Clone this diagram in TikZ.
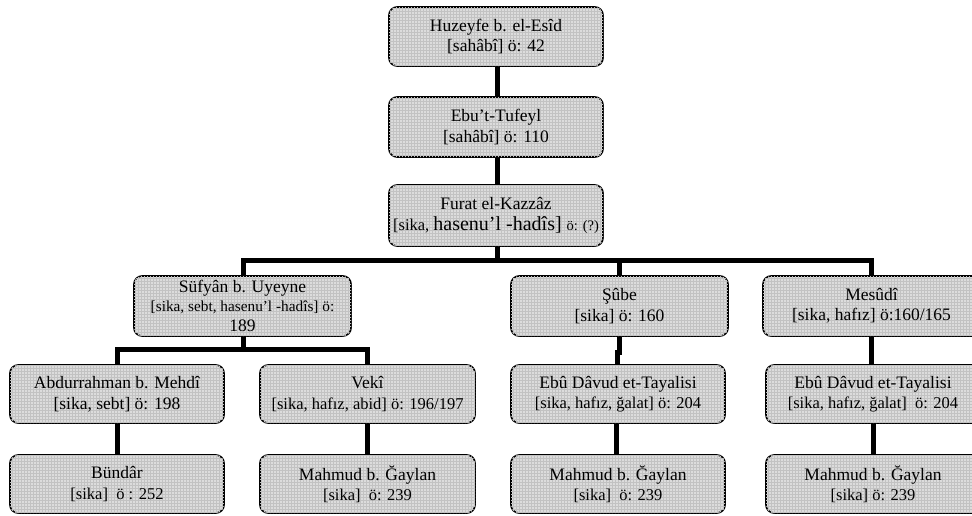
\documentclass[tikz,border=0pt]{standalone}
\usepackage{fontspec}
\setmainfont{Liberation Serif}
\usetikzlibrary{patterns}
\definecolor{boxgray}{HTML}{DCDCDC}
\definecolor{gridgray}{HTML}{C2C2C2}
\newcommand{\fszBig}{\fontsize{17.5}{20.5}\selectfont}
\newcommand{\fszMid}{\fontsize{16.5}{20}\selectfont}
\newcommand{\fszSml}{\fontsize{15.3}{17}\selectfont}
\begin{document}
\begin{tikzpicture}[x=1pt,y=1pt,
  box/.style={draw=black, line width=1.6pt, rounded corners=8pt, fill=boxgray,
    postaction={pattern=grid, pattern color=gridgray},
    align=center, inner sep=0pt, minimum width=214pt, minimum height=59pt, font=\fszBig},
  wbox/.style={box, minimum width=217pt},
  link/.style={line width=5pt}]
\path[use as bounding box, clip] (0,0) rectangle (972,-515);
% nodes
\node[box] (H) at (496,-36.5) {Huzeyfe b. el-Esîd\\\relax [sahâbî] ö: 42};
\node[box, minimum height=60pt] (E) at (496,-127) {Ebu’t-Tufeyl\\\relax [sahâbî] ö: 110};
\node[box, minimum height=61pt] (F) at (496,-215.5) {Furat el-Kazzâz\\[1pt]
  {\fontsize{16.5}{17}\selectfont [sika, }{\fontsize{20}{20}\selectfont hasenu’l -hadîs] }{\fontsize{14.5}{14}\selectfont ö: (?)}};
\node[wbox, minimum height=60pt] (S) at (242.5,-306) {Süfyân b. Uyeyne\\[-2pt]
  \fszSml [sika, sebt, hasenu’l -hadîs] ö:\\ 189};
\node[wbox, minimum height=60pt] (SU) at (619.5,-306) {Şûbe\\\relax [sika] ö: 160};
\node[wbox, minimum height=60pt] (M) at (871.5,-306) {Mesûdî\\\relax [sika, hafız] ö:160/165};
\node[box, minimum height=58pt] (A) at (117,-394) {Abdurrahman b. Mehdî\\\relax [sika, sebt] ö: 198};
\node[box, minimum width=215pt, minimum height=58pt] (V) at (367.5,-394) {Vekî\\
  \fszMid [sika, hafız, abid] ö: 196/197};
\node[box, minimum height=58pt] (B) at (117,-484) {Bündâr\\
  \fszMid [sika]\ \ ö : 252};
\node[box, minimum width=215pt, minimum height=58pt] (ML) at (367.5,-484) {Mahmud b. Ğaylan\\
  \fszMid [sika]\ \ ö: 239};
\node[box, minimum height=58pt] (D1) at (618,-394) {Ebû Dâvud et-Tayalisi\\
  \fszMid [sika, hafız, ğalat] ö: 204};
\node[box, minimum height=58pt] (MM) at (618,-484) {Mahmud b. Ğaylan\\
  \fszMid [sika]\ \ ö: 239};
\node[box, minimum height=58pt] (D2) at (873,-394) {Ebû Dâvud et-Tayalisi\\
  \fszMid [sika, hafız, ğalat]\ \ ö: 204};
\node[box, minimum height=58pt] (MR) at (873,-484) {Mahmud b. Ğaylan\\
  \fszMid [sika] ö: 239};
% junctions
\coordinate (j1) at (497,-260);
\coordinate (j2) at (243,-349);
\coordinate (jog) at (619.5,-352);
% connectors
\draw[link] (H.south -| j1) -- (E.north -| j1);
\draw[link] (E.south -| j1) -- (F.north -| j1);
\draw[link] (F.south -| j1) -- (j1);
\draw[link] (S.north -| j2) |- (j1) -| (M.north);
\draw[link] (SU.north) -- (SU.north |- j1);
\draw[link] (S.south -| j2) -- (j2);
\draw[link] (A.north) |- (j2) -| (V.north);
\draw[link] (A) -- (B);
\draw[link] (V) -- (ML);
\draw[link] (SU.south) -- (jog) -- ++(-2,0) -- ([xshift=-2pt]jog |- D1.north);
\draw[link] ([xshift=-1.5pt]D1.south) -- ([xshift=-1.5pt]MM.north);
\draw[link] (M.south) -- (D2.north -| M.south);
\draw[link] (D2) -- (MR);
\end{tikzpicture}
\end{document}
